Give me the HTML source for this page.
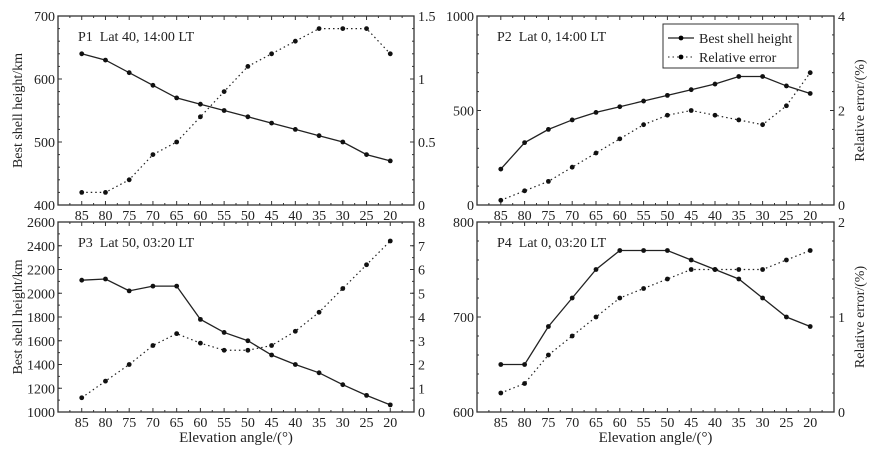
<!DOCTYPE html>
<html><head><meta charset="utf-8"><style>
body{margin:0;background:#fff;}
svg text{font-family:"Liberation Serif","Times New Roman",serif;fill:#222;white-space:pre;}
</style></head><body>
<svg id="s" width="873" height="452" xmlns="http://www.w3.org/2000/svg" font-family="Liberation Serif, serif"></svg>
<script>
const S=document.getElementById('s');let h='';
const xs=[85,80,75,70,65,60,55,50,45,40,35,30,25,20];
const P=[
 {x0:58,x1:414,y0:16,y1:205,title:'P1\u00a0\u00a0Lat 40, 14:00 LT',L:[400,700],Lt:[400,500,600,700],Lm:20,R:[0,1.5],Rt:[[0,'0'],[0.5,'0.5'],[1,'1'],[1.5,'1.5']],Rm:0.1,
  a:[640,630,610,590,570,560,550,540,530,520,510,500,480,470],b:[0.1,0.1,0.2,0.4,0.5,0.7,0.9,1.1,1.2,1.3,1.4,1.4,1.4,1.2],ylab:'Best shell height/km'},
 {x0:477,x1:834,y0:16,y1:205,title:'P2\u00a0\u00a0Lat 0, 14:00 LT',L:[0,1000],Lt:[0,500,1000],Lm:100,R:[0,4],Rt:[[0,'0'],[2,'2'],[4,'4']],Rm:0.4,
  a:[190,330,400,450,490,520,550,580,610,640,680,680,630,590],b:[0.1,0.3,0.5,0.8,1.1,1.4,1.7,1.9,2.0,1.9,1.8,1.7,2.1,2.8],rlab:'Relative error/(%)',leg:1},
 {x0:58,x1:414,y0:222,y1:412,title:'P3\u00a0\u00a0Lat 50, 03:20 LT',L:[1000,2600],Lt:[1000,1200,1400,1600,1800,2000,2200,2400,2600],Lm:100,R:[0,8],Rt:[0,1,2,3,4,5,6,7,8].map(v=>[v,''+v]),Rm:0.5,
  a:[2110,2120,2020,2060,2060,1780,1670,1600,1480,1400,1330,1230,1140,1060],b:[0.6,1.3,2,2.8,3.3,2.9,2.6,2.6,2.8,3.4,4.2,5.2,6.2,7.2],ylab:'Best shell height/km',xlab:1},
 {x0:477,x1:834,y0:222,y1:412,title:'P4\u00a0\u00a0Lat 0, 03:20 LT',L:[600,800],Lt:[600,700,800],Lm:20,R:[0,2],Rt:[[0,'0'],[1,'1'],[2,'2']],Rm:0.2,
  a:[650,650,690,720,750,770,770,770,760,750,740,720,700,690],b:[0.2,0.3,0.6,0.8,1.0,1.2,1.3,1.4,1.5,1.5,1.5,1.5,1.6,1.7],rlab:'Relative error/(%)',xlab:1}
];
for(const p of P){
 const X=v=>p.x0+(90-v)/75*(p.x1-p.x0);
 const YL=v=>p.y1-(v-p.L[0])/(p.L[1]-p.L[0])*(p.y1-p.y0);
 const YR=v=>p.y1-(v-p.R[0])/(p.R[1]-p.R[0])*(p.y1-p.y0);
 h+=`<rect x="${p.x0}" y="${p.y0}" width="${p.x1-p.x0}" height="${p.y1-p.y0}" fill="none" stroke="#333" stroke-width="1.3"/>`;
 for(let v=87.5;v>15;v-=2.5){const x=X(v),mj=(v%5===0);const l=mj?4:2;
  h+=`<line x1="${x}" y1="${p.y1}" x2="${x}" y2="${p.y1-l}" stroke="#333"/><line x1="${x}" y1="${p.y0}" x2="${x}" y2="${p.y0+l}" stroke="#333"/>`;}
 xs.forEach(v=>h+=`<text x="${X(v)}" y="${p.y1+15}" font-size="14" text-anchor="middle">${v}</text>`);
 for(let v=p.L[0];v<=p.L[1]+1e-9;v+=p.Lm){const y=YL(v);h+=`<line x1="${p.x0}" y1="${y}" x2="${p.x0+2}" y2="${y}" stroke="#333"/>`;}
 p.Lt.forEach(v=>{const y=YL(v);h+=`<line x1="${p.x0}" y1="${y}" x2="${p.x0+4}" y2="${y}" stroke="#333"/><text x="${p.x0-3}" y="${y+5}" font-size="14" text-anchor="end">${v}</text>`;});
 for(let v=p.R[0];v<=p.R[1]+1e-9;v+=p.Rm){const y=YR(v);h+=`<line x1="${p.x1}" y1="${y}" x2="${p.x1-2}" y2="${y}" stroke="#333"/>`;}
 p.Rt.forEach(([v,t])=>{const y=YR(v);h+=`<line x1="${p.x1}" y1="${y}" x2="${p.x1-4}" y2="${y}" stroke="#333"/><text x="${p.x1+4}" y="${y+5}" font-size="14">${t}</text>`;});
 h+=`<text x="${p.x0+20}" y="${p.y0+25}" font-size="14">${p.title}</text>`;
 if(p.ylab)h+=`<text transform="translate(22,${(p.y0+p.y1)/2}) rotate(-90)" font-size="14" text-anchor="middle">${p.ylab}</text>`;
 if(p.rlab)h+=`<text transform="translate(864,${(p.y0+p.y1)/2}) rotate(-90)" font-size="14" text-anchor="middle">${p.rlab}</text>`;
 if(p.xlab)h+=`<text x="${(p.x0+p.x1)/2}" y="442" font-size="15" text-anchor="middle">Elevation angle/(°)</text>`;
 const pa=xs.map((v,i)=>X(v)+','+YL(p.a[i])).join(' ');
 const pb=xs.map((v,i)=>X(v)+','+YR(p.b[i])).join(' ');
 h+=`<polyline points="${pa}" fill="none" stroke="#222" stroke-width="1.3"/>`;
 h+=`<polyline points="${pb}" fill="none" stroke="#222" stroke-width="1.2" stroke-dasharray="1.5,3"/>`;
 xs.forEach((v,i)=>{h+=`<circle cx="${X(v)}" cy="${YL(p.a[i])}" r="2.4" fill="#111"/><circle cx="${X(v)}" cy="${YR(p.b[i])}" r="2.4" fill="#111"/>`;});
 if(p.leg){
  h+=`<rect x="663" y="24" width="135" height="44" fill="#fff" stroke="#333"/>`;
  h+=`<line x1="668" y1="38" x2="694" y2="38" stroke="#222" stroke-width="1.3"/><circle cx="681" cy="38" r="2.4"/>`;
  h+=`<line x1="668" y1="57" x2="694" y2="57" stroke="#222" stroke-dasharray="1.5,3"/><circle cx="681" cy="57" r="2.4"/>`;
  h+=`<text x="699" y="43" font-size="14">Best shell height</text><text x="699" y="62" font-size="14">Relative error</text>`;
 }
}
S.innerHTML=h;
</script>
</body></html>
